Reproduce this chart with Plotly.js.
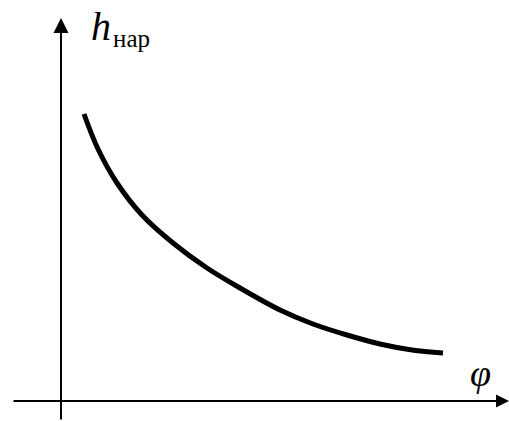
<!DOCTYPE html>
<html>
<head>
<meta charset="utf-8">
<script src="https://cdn.plot.ly/plotly-3.0.1.min.js"></script>
<style>html,body{margin:0;padding:0;background:#fff;}#chart{width:509px;height:421px;}</style>
</head>
<body>
<div id="chart"></div>
<script>
// Curve values (arbitrary units, origin at the axes' crossing)
const phi = [23, 37, 56, 81, 112, 146, 179, 219, 252, 286, 319, 351, 382];
const hNar = [287, 252, 218, 186, 158, 133, 113, 91, 77, 66, 57, 51, 48];

// Axis extents
const xRange = [-61, 448];
const yRange = [-20, 401];
const xAxisStart = -49, xAxisEnd = 448;
const yAxisStart = -20, yAxisEnd = 383;

const serif = 'Liberation Serif';

const trace = {
  x: phi, y: hNar, mode: 'lines', type: 'scatter',
  line: {color: '#000', width: 5, shape: 'spline', smoothing: 1},
  hoverinfo: 'skip'
};

const hidden = {visible: false, showgrid: false, zeroline: false, fixedrange: true};

const layout = {
  width: 509, height: 421,
  margin: {l: 0, r: 0, t: 0, b: 0},
  paper_bgcolor: '#fff', plot_bgcolor: '#fff',
  showlegend: false,
  xaxis: Object.assign({range: xRange}, hidden),
  yaxis: Object.assign({range: yRange}, hidden),
  annotations: [
    {x: 0, y: yAxisEnd, xref: 'x', yref: 'y', ax: 0, ay: yAxisStart, axref: 'x', ayref: 'y',
     text: '', showarrow: true, arrowhead: 2, arrowsize: 1.5, arrowwidth: 2, arrowcolor: '#000'},
    {x: xAxisEnd, y: 0, xref: 'x', yref: 'y', ax: xAxisStart, ay: 0, axref: 'x', ayref: 'y',
     text: '', showarrow: true, arrowhead: 2, arrowsize: 1.3, arrowwidth: 2, arrowcolor: '#000'},
    {x: 89/509, y: 1 - 2/421, xref: 'paper', yref: 'paper', xanchor: 'left', yanchor: 'top',
     text: '<i>h</i>', showarrow: false,
     font: {family: serif, size: 40, color: '#000'}},
    {x: 111/509, y: 1 - 23/421, xref: 'paper', yref: 'paper', xanchor: 'left', yanchor: 'top',
     text: 'нар', showarrow: false,
     font: {family: serif, size: 25, color: '#000'}},
    {x: 480/509, y: 1 - 373/421, xref: 'paper', yref: 'paper', xanchor: 'center', yanchor: 'middle',
     text: '<i>φ</i>', showarrow: false,
     font: {family: serif, size: 38, color: '#000'}}
  ]
};

Plotly.newPlot('chart', [trace], layout, {displayModeBar: false, staticPlot: true});
</script>
</body>
</html>
